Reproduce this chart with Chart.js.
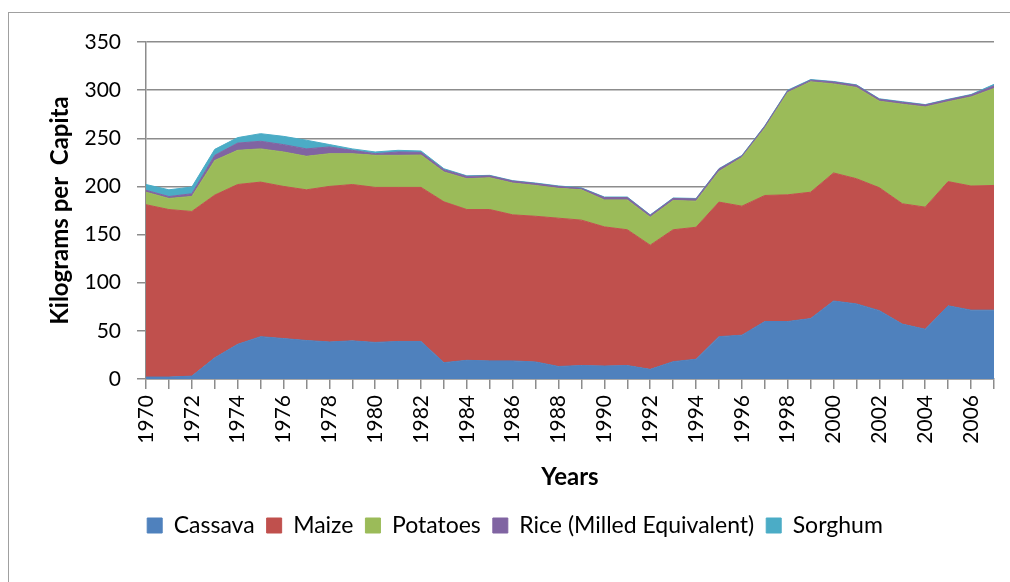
<!DOCTYPE html>
<html>
<head>
<meta charset="utf-8">
<script src="https://cdn.jsdelivr.net/npm/chart.js@4/dist/chart.umd.min.js"></script>
<style>
  html, body { margin: 0; padding: 0; background: #fff; }
  #wrap { width: 1010px; height: 582px; position: relative; }
</style>
</head>
<body>
<div id="wrap"><canvas id="chart1" width="1010" height="582"></canvas></div>
<script>
var years = ['1970','1971','1972','1973','1974','1975','1976','1977','1978','1979',
             '1980','1981','1982','1983','1984','1985','1986','1987','1988','1989',
             '1990','1991','1992','1993','1994','1995','1996','1997','1998','1999',
             '2000','2001','2002','2003','2004','2005','2006','2007'];

var cassava = [2, 2, 3, 22, 36, 44, 42, 40, 38.5, 39.6,
               38, 39, 39, 17, 19.4, 18.8, 18.8, 17.7, 13, 14,
               13.5, 14, 10, 18, 20.5, 44, 45.5, 59.7, 59.7, 62.8,
               81, 78, 71, 57, 51.7, 76, 71.5, 71.5];

var maize = [179, 174, 171, 169, 166, 160.5, 158, 156.5, 161.5, 162.4,
             161, 160, 160, 167, 156.6, 157.2, 151.7, 151.3, 154, 151,
             144.5, 141, 129, 137, 137.1, 139.7, 134, 130.9, 131.6, 131.2,
             133, 130, 127.6, 125, 126.8, 129, 128.9, 129.5];

var potatoes = [13, 11.5, 15.6, 36, 35.5, 34.5, 35.8, 34.8, 34, 32,
                33.3, 33.3, 33.6, 31, 32, 33, 33, 32, 31, 31.5,
                28, 31, 29, 30.4, 27.1, 31.9, 50.5, 69.9, 106.2, 114.7,
                92.5, 94.8, 89.9, 103.4, 104.1, 83, 92.6, 100.7];

var rice = [2, 2, 2.8, 5.3, 7.5, 7.9, 7.6, 7.7, 7, 3.5,
            1.7, 3.5, 2.8, 2.4, 2.4, 2, 2.1, 2, 2, 1.5,
            2.5, 2.5, 2, 2.1, 2.3, 2.4, 1.6, 2, 1.8, 1.7,
            2, 2.2, 2, 2, 2, 2, 2, 2.8];

var sorghum = [6, 7, 7, 6.2, 5.7, 7.9, 8.6, 9, 2.5, 1.5,
               1.8, 1.7, 1.4, 1, 0.6, 0.5, 0.4, 0.5, 0.5, 0.5,
               0.5, 0.5, 0.5, 0.5, 0.5, 0.5, 0.6, 0.5, 0.7, 0.6,
               0.5, 0.5, 0.5, 0.6, 0.4, 0.5, 0.5, 1.5];

var yTicks = [0, 50, 100, 150, 200, 250, 300, 350];

var FONT = 'Lato, "Open Sans", sans-serif';
var GRID = '#8c8c8c';

function series(label, data, color, fill) {
  return {
    label: label,
    data: data,
    backgroundColor: color,
    borderColor: color,
    borderWidth: 1,
    pointRadius: 0,
    pointHoverRadius: 0,
    fill: fill,
    tension: 0
  };
}

// frame round the whole chart, like the Excel chart area border
var frame = {
  id: 'frame',
  beforeDraw: function (chart) {
    var ctx = chart.ctx;
    ctx.save();
    ctx.fillStyle = '#fff';
    ctx.fillRect(0, 0, chart.width, chart.height);
    ctx.strokeStyle = '#a0a0a0';
    ctx.lineWidth = 1;
    ctx.strokeRect(8.5, 12.5, 1100, 1000);
    ctx.restore();
  }
};

new Chart(document.getElementById('chart1'), {
  type: 'line',
  data: {
    labels: years,
    datasets: [
      series('Cassava', cassava, '#4F81BD', 'origin'),
      series('Maize', maize, '#C0504D', '-1'),
      series('Potatoes', potatoes, '#9BBB59', '-1'),
      series('Rice (Milled Equivalent)', rice, '#8064A2', '-1'),
      series('Sorghum', sorghum, '#4BACC6', '-1')
    ]
  },
  plugins: [frame],
  options: {
    responsive: false,
    animation: false,
    layout: { padding: { left: 36, top: 42, right: 16, bottom: 35 } },
    plugins: {
      tooltip: { enabled: false },
      legend: {
        position: 'bottom',
        labels: {
          font: { family: FONT, size: 23 },
          color: '#000',
          boxWidth: 15,
          boxHeight: 15,
          padding: 12
        }
      }
    },
    scales: {
      x: {
        offset: false,
        afterFit: function (s) {
          s.height = 123;
          s.paddingLeft = 0;
          s.paddingRight = 0;
        },
        grid: {
          drawOnChartArea: false,
          color: GRID,
          tickLength: 10,
          lineWidth: 1.5
        },
        border: { color: GRID, width: 1.5 },
        ticks: {
          autoSkip: false,
          minRotation: 90,
          maxRotation: 90,
          padding: 6,
          color: '#000',
          font: { family: FONT, size: 21 },
          callback: function (v, i) { return i % 2 === 0 ? this.getLabelForValue(v) : ''; }
        },
        title: {
          display: true,
          text: 'Years',
          color: '#000',
          font: { family: FONT, size: 24, weight: 'bold' },
          padding: { top: 4, bottom: 10 }
        }
      },
      y: {
        stacked: true,
        min: 0,
        max: 350,
        afterFit: function (s) { s.width = 110; },
        afterBuildTicks: function (s) {
          s.ticks = yTicks.map(function (v) { return { value: v }; });
        },
        grid: {
          color: GRID,
          lineWidth: 1.5,
          tickLength: 9
        },
        border: { color: GRID, width: 1.5 },
        ticks: {
          padding: 16,
          color: '#000',
          font: { family: FONT, size: 21 }
        },
        title: {
          display: true,
          text: 'Kilograms per  Capita',
          color: '#000',
          font: { family: FONT, size: 24, weight: 'bold' },
          padding: { top: 10, bottom: 0 }
        }
      }
    }
  }
});
</script>
</body>
</html>
